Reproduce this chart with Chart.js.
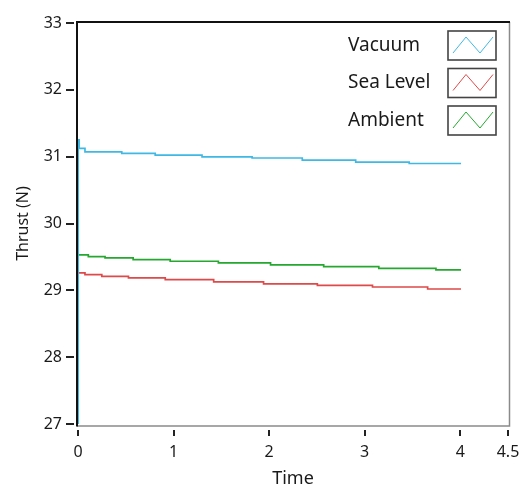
<!DOCTYPE html>
<html>
<head>
<meta charset="utf-8">
<script src="https://cdn.jsdelivr.net/npm/chart.js@4/dist/chart.umd.min.js"></script>
<style>
  html, body { margin: 0; padding: 0; background: #ffffff; }
  #wrap { width: 522px; height: 490px; position: relative; }
</style>
</head>
<body>
<div id="wrap"><canvas id="c"></canvas></div>
<script>
// ---- data ----
const seriesNames = ["Vacuum", "Sea Level", "Ambient"];
const vacuumTime   = [0, 0.002, 0.012, 0.073, 0.458, 0.808, 1.298, 1.822, 2.347, 2.906, 3.466, 4.008];
const vacuumThrust = [27, 31.25, 31.123, 31.072, 31.048, 31.023, 30.997, 30.98, 30.947, 30.917, 30.898, 30.898];
const seaTime      = [0, 0.073, 0.249, 0.528, 0.913, 1.42, 1.942, 2.505, 3.082, 3.659, 4.008];
const seaThrust    = [29.26, 29.235, 29.21, 29.186, 29.16, 29.127, 29.096, 29.075, 29.05, 29.02, 29.02];
const ambientTime  = [0, 0.108, 0.283, 0.577, 0.965, 1.469, 2.015, 2.571, 3.148, 3.746, 4.008];
const ambientThrust= [29.53, 29.505, 29.486, 29.46, 29.435, 29.41, 29.38, 29.355, 29.33, 29.306, 29.306];
const xTickLabels  = [0, 1, 2, 3, 4, 4.5];
const yTickLabels  = [27, 28, 29, 30, 31, 32, 33];

const colors = ["rgb(64,184,228)", "rgb(222,74,74)", "rgb(38,168,48)"];
const FONT = "'Noto Sans', 'Open Sans', sans-serif";

function pts(t, v) { return t.map((x, i) => ({ x: x, y: v[i] })); }

const frameAndTicks = {
  id: 'frameAndTicks',
  beforeDatasetsDraw(chart) {
    const { ctx, chartArea: a, scales: { x, y } } = chart;
    ctx.save();
    // bottom / right gray
    ctx.strokeStyle = '#8a8a8a';
    ctx.lineWidth = 1.5;
    ctx.beginPath();
    ctx.moveTo(a.left - 1, a.bottom + 2);
    ctx.lineTo(a.right + 1.5, a.bottom + 2);
    ctx.lineTo(a.right + 1.5, a.top - 1);
    ctx.stroke();
    // top / left black
    ctx.strokeStyle = '#111';
    ctx.lineWidth = 2;
    ctx.beginPath();
    ctx.moveTo(a.right + 2, a.top - 1);
    ctx.lineTo(a.left - 1, a.top - 1);
    ctx.lineTo(a.left - 1, a.bottom + 2.5);
    ctx.stroke();
    // tick marks
    ctx.strokeStyle = '#222';
    ctx.lineWidth = 2;
    ctx.beginPath();
    yTickLabels.forEach(v => {
      const py = Math.round(y.getPixelForValue(v));
      ctx.moveTo(a.left - 12, py);
      ctx.lineTo(a.left - 4, py);
    });
    xTickLabels.forEach(v => {
      const px = Math.round(x.getPixelForValue(v));
      ctx.moveTo(px, a.bottom + 6);
      ctx.lineTo(px, a.bottom + 12);
    });
    ctx.stroke();
    ctx.restore();
  },
  afterDraw(chart) {
    const { ctx } = chart;
    ctx.save();
    const ds = chart.data.datasets;
    const textX = 348, boxX = 448, boxW = 48, boxH = 29;
    const tops = [31, 68.5, 106];
    ctx.font = "19px " + FONT;
    ctx.textBaseline = 'middle';
    ctx.textAlign = 'left';
    ds.forEach((d, i) => {
      const top = tops[i];
      ctx.fillStyle = '#1a1a1a';
      ctx.fillText(d.label, textX, top + boxH / 2);
      ctx.strokeStyle = '#444';
      ctx.lineWidth = 1.6;
      ctx.strokeRect(boxX, top, boxW, boxH);
      ctx.strokeStyle = d.borderColor;
      ctx.lineWidth = 1;
      ctx.beginPath();
      ctx.moveTo(boxX + 5, top + 22);
      ctx.lineTo(boxX + 18, top + 6);
      ctx.lineTo(boxX + 32, top + 22);
      ctx.lineTo(boxX + 45, top + 6);
      ctx.stroke();
    });
    ctx.restore();
  }
};

new Chart(document.getElementById('c'), {
  type: 'line',
  data: {
    datasets: [
      { label: seriesNames[0], data: pts(vacuumTime, vacuumThrust), borderColor: colors[0], backgroundColor: colors[0] },
      { label: seriesNames[1], data: pts(seaTime, seaThrust), borderColor: colors[1], backgroundColor: colors[1] },
      { label: seriesNames[2], data: pts(ambientTime, ambientThrust), borderColor: colors[2], backgroundColor: colors[2] }
    ]
  },
  options: {
    responsive: true,
    maintainAspectRatio: false,
    animation: false,
    parsing: false,
    layout: { padding: { top: 23, right: 14, left: 0, bottom: 0 } },
    elements: {
      line: { borderWidth: 1.7, stepped: true, tension: 0 },
      point: { radius: 0 }
    },
    plugins: { legend: { display: false }, tooltip: { enabled: false } },
    scales: {
      x: {
        type: 'linear', min: 0, max: 4.5,
        afterBuildTicks(s) { s.ticks = xTickLabels.map(v => ({ value: v })); },
        afterFit(s) { s.height = 66; s.paddingLeft = 0; s.paddingRight = 0; },
        grid: { display: false, drawTicks: false },
        border: { display: false },
        ticks: { color: '#1a1a1a', font: { family: FONT, size: 16 }, padding: 19, autoSkip: false, maxRotation: 0,
                 callback: v => String(v) },
        title: { display: true, text: 'Time', color: '#1a1a1a', font: { family: FONT, size: 18 }, padding: { top: 0, bottom: 0 } }
      },
      y: {
        type: 'linear', min: 27, max: 33,
        afterBuildTicks(s) { s.ticks = yTickLabels.map(v => ({ value: v })); },
        afterFit(s) { s.width = 78; s.paddingTop = 0; s.paddingBottom = 0; },
        grid: { display: false, drawTicks: false },
        border: { display: false },
        ticks: { color: '#1a1a1a', font: { family: FONT, size: 16 }, padding: 16, autoSkip: false,
                 callback: v => String(v) },
        title: { display: true, text: 'Thrust (N)', color: '#1a1a1a', font: { family: FONT, size: 16 }, padding: { top: 14, bottom: 0 } }
      }
    }
  },
  plugins: [frameAndTicks]
});
</script>
</body>
</html>
